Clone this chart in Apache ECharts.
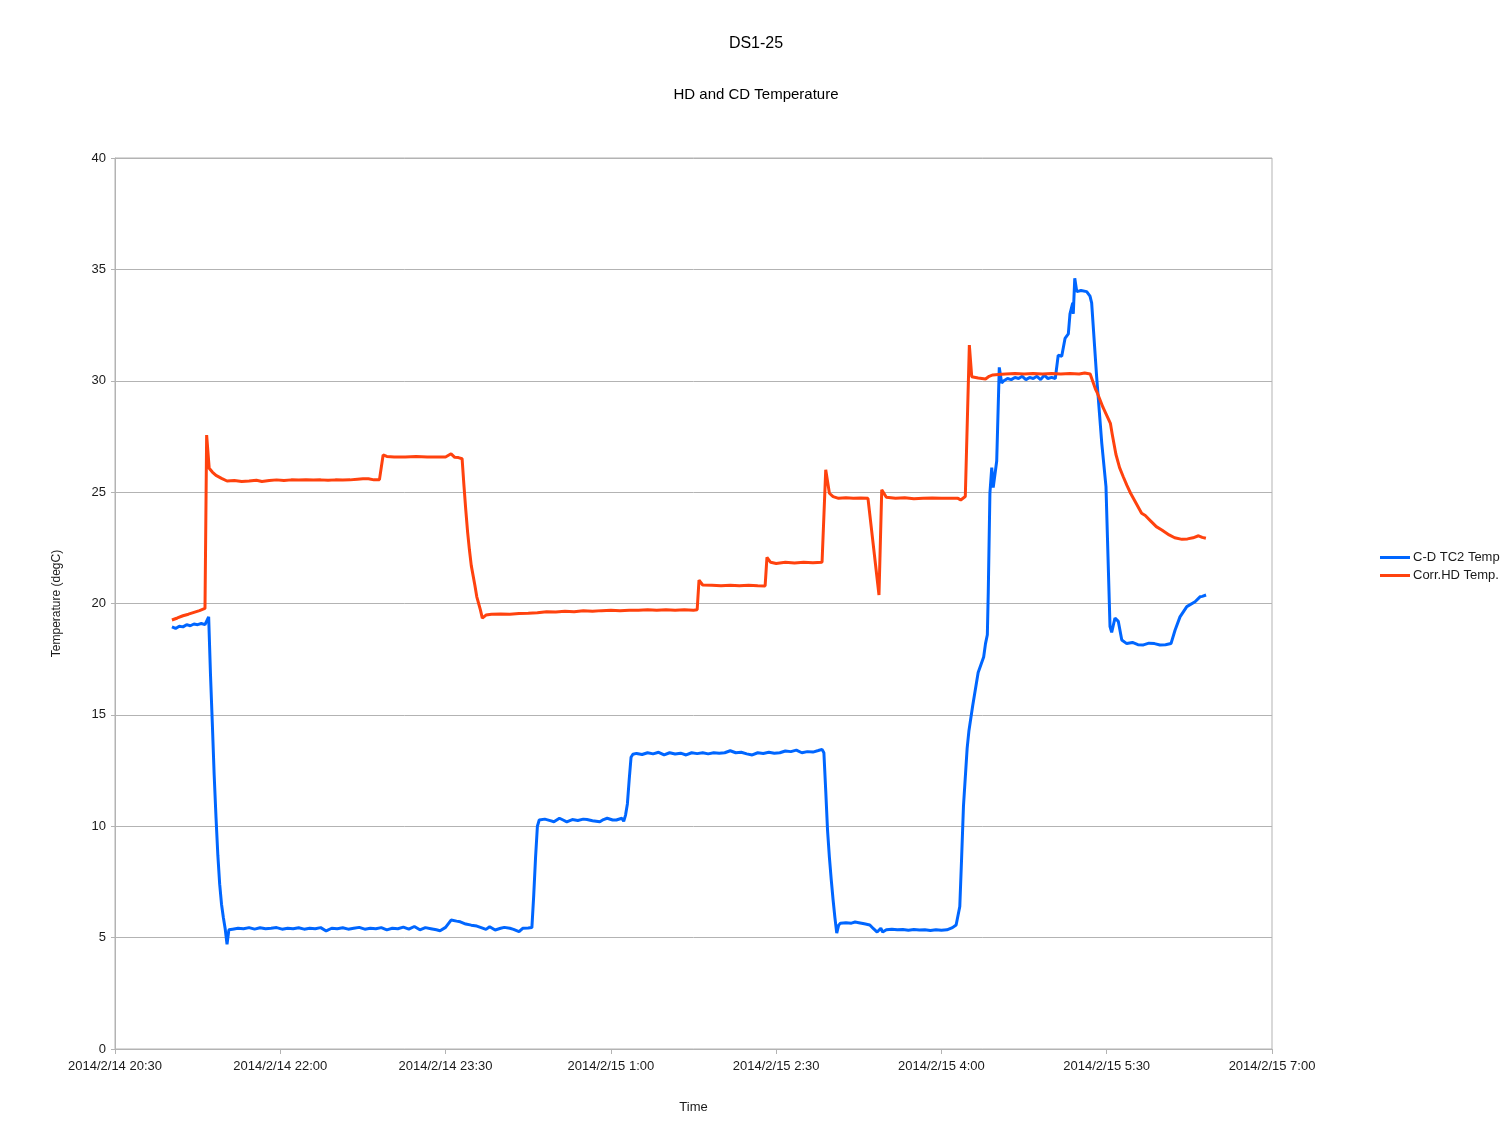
<!DOCTYPE html>
<html>
<head>
<meta charset="utf-8">
<script src="https://cdn.jsdelivr.net/npm/echarts@6/dist/echarts.min.js"></script>
<style>
html,body{margin:0;padding:0;background:#fff;}
#chart{width:1512px;height:1134px;}
</style>
</head>
<body>
<div id="chart"></div>
<script>
// ---- Data ----
const chartTitle = 'DS1-25';
const chartSubtitle = 'HD and CD Temperature';
const seriesNames = ['C-D TC2 Temp', 'Corr.HD Temp.'];
const xTickStart = '20:30';   // 2014/2/14
const xTickEnd = '07:00';     // 2014/2/15
const xTickStepMin = 90;
const yTicks = [0, 5, 10, 15, 20, 25, 30, 35, 40];

const blueTimes = [
 '21:01','21:03','21:05','21:07','21:09','21:11','21:13','21:15','21:17','21:19','21:20','21:21',
 '21:22','21:23','21:24','21:25','21:26','21:27','21:28','21:29','21:30','21:31','21:32',
 '21:34','21:37','21:40','21:43','21:46','21:49','21:52','21:55','21:58','22:01','22:04','22:07',
 '22:10','22:13','22:16','22:19','22:22','22:25','22:28','22:31','22:34','22:37','22:40','22:43',
 '22:46','22:49','22:52','22:55','22:58','23:01','23:04','23:07','23:10','23:13','23:16','23:19',
 '23:22','23:25','23:27','23:30','23:33','23:36','23:38','23:41','23:44','23:47','23:49','23:52',
 '23:54','23:57','00:00','00:02','00:05','00:07','00:10','00:12','00:15','00:17','00:18','00:19',
 '00:20','00:21','00:24','00:27','00:29','00:32','00:34','00:36','00:39','00:42','00:45','00:47',
 '00:50','00:54','00:56','00:58','01:01','01:03','01:06','01:07','01:08','01:09','01:10','01:11',
 '01:12','01:14','01:17','01:20','01:23','01:26','01:29','01:32','01:35','01:38','01:41','01:44',
 '01:47','01:50','01:53','01:56','01:59','02:02','02:05','02:08','02:11','02:14','02:17','02:20',
 '02:23','02:26','02:29','02:32','02:35','02:38','02:41','02:44','02:47','02:50','02:53','02:55',
 '02:56','02:57','02:58','02:59','03:00','03:01','03:02','03:03','03:04','03:05','03:08','03:11',
 '03:13','03:15','03:18','03:21','03:23','03:25','03:26','03:27','03:28','03:30','03:33','03:36',
 '03:39','03:42','03:45','03:48','03:51','03:54','03:57','04:00','04:03','04:06','04:08','04:10',
 '04:11','04:12','04:14','04:15','04:17','04:20','04:23','04:24','04:25','04:25:30','04:26:24',
 '04:27:24','04:28:12','04:29:12','04:30:06','04:31:30','04:32:48','04:34','04:36','04:38','04:40',
 '04:42','04:44','04:46','04:48','04:50','04:52','04:54','04:56','04:58','05:00','05:02','05:03',
 '05:03:36','05:05:30','05:07:18','05:09:06','05:10:00','05:11:30','05:11:48','05:12:36','05:13:42',
 '05:16','05:19:06','05:20:54','05:21:48','05:24:30','05:27:18','05:29:36','05:31:48','05:32:42',
 '05:34:30','05:36:18','05:38:12','05:40:54','05:44','05:47','05:50','05:53','05:56','05:59','06:02',
 '06:05','06:07:12','06:09:54','06:13:36','06:18:06','06:20:48','06:22','06:24:06'
];
const blueValues = [
 18.95,18.88,18.98,18.95,19.05,19.0,19.08,19.05,19.1,19.05,19.12,19.4,
 16.8,14.6,12.3,10.4,8.7,7.4,6.5,5.9,5.4,4.7,5.35,
 5.38,5.42,5.4,5.45,5.38,5.44,5.4,5.42,5.45,5.38,5.42,5.4,
 5.44,5.38,5.42,5.4,5.45,5.3,5.42,5.4,5.44,5.38,5.42,5.46,
 5.38,5.42,5.4,5.45,5.35,5.42,5.4,5.47,5.38,5.5,5.35,5.45,
 5.4,5.35,5.31,5.46,5.79,5.74,5.71,5.61,5.56,5.52,5.46,5.37,
 5.49,5.34,5.42,5.46,5.42,5.37,5.27,5.42,5.43,5.45,6.9,8.6,
 10.0,10.28,10.32,10.25,10.2,10.36,10.28,10.2,10.3,10.26,10.32,10.3,
 10.25,10.2,10.3,10.36,10.28,10.28,10.36,10.22,10.5,11.0,12.1,13.1,
 13.23,13.27,13.22,13.3,13.25,13.32,13.2,13.3,13.24,13.28,13.2,13.3,
 13.26,13.3,13.25,13.3,13.28,13.3,13.39,13.3,13.32,13.25,13.2,13.3,
 13.27,13.32,13.28,13.3,13.38,13.35,13.42,13.3,13.35,13.33,13.4,13.45,
 13.3,11.6,9.8,8.6,7.6,6.7,5.9,5.2,5.55,5.65,5.67,5.65,
 5.7,5.67,5.62,5.57,5.4,5.25,5.2,5.42,5.25,5.35,5.38,5.35,
 5.36,5.33,5.36,5.34,5.35,5.32,5.35,5.33,5.35,5.45,5.57,6.4,
 8.6,10.9,13.5,14.3,15.4,16.9,17.6,18.2,18.6,20.5,24.95,
 26.1,25.2,25.2,26.4,30.6,29.9,30.0,30.1,30.05,30.15,
 30.1,30.2,30.05,30.15,30.1,30.2,30.05,30.25,30.1,30.15,30.1,30.1,
 31.15,31.1,31.9,32.1,33.0,33.5,33.0,34.6,34.0,
 34.05,34.0,33.8,33.5,30.2,27.2,25.25,18.96,18.7,
 19.35,19.2,18.36,18.2,18.25,18.15,18.14,18.22,18.2,18.14,18.15,
 18.2,18.8,19.4,19.86,20.08,20.3,20.32,20.38
];

const orangeTimes = [
 '21:01','21:04','21:07','21:10','21:13','21:16','21:19','21:19:54','21:21:18','21:23','21:25','21:28',
 '21:31','21:35','21:39','21:43','21:47','21:50','21:54','21:58','22:02','22:06','22:10','22:14',
 '22:18','22:22','22:26','22:30','22:34','22:38','22:42','22:45','22:48','22:51','22:54','22:56',
 '22:58','23:02','23:08','23:14','23:20','23:26','23:30','23:31','23:33','23:35','23:37','23:39',
 '23:40','23:41','23:42','23:43','23:44','23:46','23:47','23:49','23:50','23:52','23:55','00:00',
 '00:05','00:10','00:15','00:20','00:25','00:30','00:35','00:40','00:45','00:50','00:55','01:00',
 '01:05','01:10','01:15','01:20','01:25','01:30','01:35','01:40','01:45','01:47','01:48','01:50',
 '01:55','02:00','02:05','02:10','02:15','02:20','02:24','02:25','02:27','02:30','02:35','02:40',
 '02:45','02:50','02:55','02:56','02:57','02:59','03:01','03:04','03:08','03:12','03:16','03:20',
 '03:26','03:27:30','03:30','03:35','03:40','03:45','03:50','03:55','04:00','04:05','04:09','04:10:30',
 '04:13','04:14','04:15:12','04:16:30','04:20','04:24','04:26','04:28','04:31','04:35','04:40','04:45',
 '04:50','04:55','05:00','05:05','05:10','05:15','05:18','05:21','05:22','05:24','05:25','05:28',
 '05:32','05:33','05:35','05:37','05:39','05:41','05:43','05:46','05:49','05:51','05:54','05:57',
 '06:00','06:04','06:07','06:11','06:14','06:17','06:20','06:22','06:24'
];
const orangeValues = [
 19.26,19.35,19.45,19.52,19.6,19.68,19.78,27.56,26.07,25.9,25.75,25.62,
 25.5,25.52,25.48,25.5,25.53,25.48,25.52,25.55,25.52,25.55,25.54,25.55,
 25.54,25.55,25.53,25.55,25.54,25.55,25.58,25.6,25.6,25.55,25.56,26.67,
 26.6,26.58,26.58,26.6,26.58,26.58,26.58,26.6,26.72,26.56,26.55,26.5,
 25.3,24.2,23.2,22.4,21.7,20.8,20.3,19.7,19.34,19.48,19.52,19.53,
 19.52,19.55,19.56,19.58,19.63,19.62,19.65,19.63,19.67,19.65,19.68,19.7,
 19.68,19.7,19.7,19.72,19.7,19.72,19.7,19.72,19.7,19.72,21.05,20.83,
 20.82,20.8,20.82,20.8,20.82,20.8,20.79,22.07,21.85,21.8,21.85,21.82,
 21.85,21.83,21.85,21.83,26.0,24.95,24.8,24.72,24.75,24.72,24.74,24.72,
 20.38,25.1,24.77,24.72,24.75,24.7,24.72,24.74,24.72,24.73,24.72,24.65,
 24.8,24.87,31.6,30.18,30.12,30.08,30.2,30.26,30.28,30.3,30.32,30.3,
 30.33,30.3,30.32,30.3,30.33,30.3,30.35,30.3,30.28,29.6,29.43,28.8,
 28.09,27.6,26.7,26.1,25.69,25.3,24.95,24.5,24.05,23.95,23.7,23.45,
 23.3,23.08,22.95,22.88,22.9,22.95,23.04,22.97,22.93
];

// ---- helpers ----
const startMin = 20 * 60 + 30;
function toOffset(s) {
  const p = s.split(':').map(Number);
  let m = p[0] * 60 + p[1] + (p[2] || 0) / 60;
  if (p[0] < 12) m += 1440;
  return m - startMin;
}
function pairs(times, vals) { return times.map((t, i) => [toOffset(t), vals[i]]); }
function fmtX(v) {
  const total = startMin + v;
  const day = total >= 1440 ? 15 : 14;
  const tm = Math.round(total % 1440);
  const h = Math.floor(tm / 60), mm = tm % 60;
  return '2014/2/' + day + ' ' + h + ':' + (mm < 10 ? '0' : '') + mm;
}

const chart = echarts.init(document.getElementById('chart'), null, {renderer: 'canvas'});
const FONT = '"Liberation Sans", Arial, sans-serif';
const textCol = '#1a1a1a';
chart.setOption({
  animation: false,
  backgroundColor: '#ffffff',
  title: [
    {text: chartTitle, left: 'center', top: 31, textStyle: {fontFamily: FONT, fontSize: 16, fontWeight: 'normal', color: '#000'}},
    {text: chartSubtitle, left: 'center', top: 82, textStyle: {fontFamily: FONT, fontSize: 15, fontWeight: 'normal', color: '#000'}}
  ],
  legend: {
    orient: 'vertical', left: 1380, top: 551, padding: 0,
    itemWidth: 30, itemHeight: 3, itemGap: 5, icon: 'rect',
    textStyle: {fontFamily: FONT, fontSize: 13, color: textCol, padding: [0, 0, 0, -2]},
    data: seriesNames
  },
  grid: {left: 115, right: 240, top: 158, bottom: 85, show: true, borderColor: '#b3b3b3', borderWidth: 1, containLabel: false},
  xAxis: {
    type: 'value', min: 0, max: toOffset(xTickEnd), interval: xTickStepMin,
    name: 'Time', nameLocation: 'middle', nameGap: 52,
    nameTextStyle: {fontFamily: FONT, fontSize: 13, color: textCol},
    axisLine: {show: true, lineStyle: {color: '#b3b3b3'}},
    axisTick: {show: true, length: 5, lineStyle: {color: '#b3b3b3'}},
    axisLabel: {formatter: fmtX, fontFamily: FONT, fontSize: 13, color: textCol, margin: 11, showMinLabel: true, showMaxLabel: true},
    splitLine: {show: false}
  },
  yAxis: {
    type: 'value', min: yTicks[0], max: yTicks[yTicks.length - 1], interval: yTicks[1] - yTicks[0],
    name: 'Temperature (degC)', nameLocation: 'middle', nameGap: 52,
    nameTextStyle: {fontFamily: FONT, fontSize: 12, color: textCol},
    axisLine: {show: true, lineStyle: {color: '#b3b3b3'}},
    axisTick: {show: true, length: 4, lineStyle: {color: '#b3b3b3'}},
    axisLabel: {fontFamily: FONT, fontSize: 13, color: textCol, margin: 9},
    splitLine: {show: true, lineStyle: {color: '#b3b3b3', width: 1}}
  },
  series: [
    {name: seriesNames[0], type: 'line', data: pairs(blueTimes, blueValues), showSymbol: false, symbol: 'none',
     lineStyle: {color: '#0066ff', width: 3}, itemStyle: {color: '#0066ff'}},
    {name: seriesNames[1], type: 'line', data: pairs(orangeTimes, orangeValues), showSymbol: false, symbol: 'none',
     lineStyle: {color: '#ff420e', width: 3}, itemStyle: {color: '#ff420e'}}
  ]
});
</script>
</body>
</html>
